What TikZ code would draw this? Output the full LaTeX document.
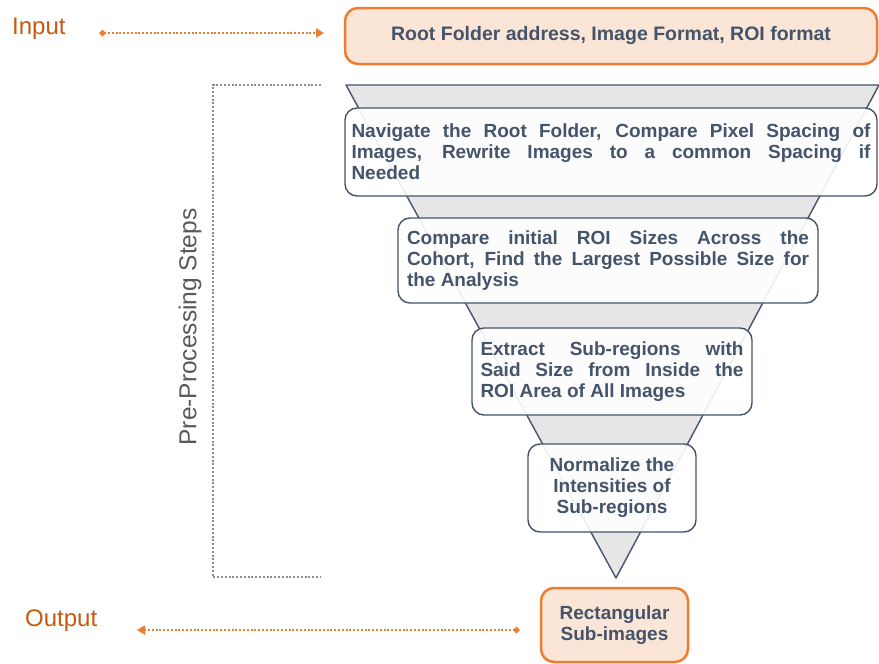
\documentclass[tikz,border=0pt]{standalone}
\usepackage{fontspec}
\setmainfont{Liberation Sans}
\usetikzlibrary{arrows.meta}
\definecolor{slate}{HTML}{44546A}
\definecolor{orng}{HTML}{ED7D31}
\definecolor{peach}{HTML}{FBE5D6}
\definecolor{darkorng}{HTML}{C55A11}
\definecolor{lgray}{HTML}{E7E6E6}
\definecolor{bgray}{HTML}{8C8C8C}
\definecolor{tgray}{HTML}{595959}
\begin{document}
\begin{tikzpicture}[x=1pt,y=-1pt,
  boxfont/.style={font=\bfseries\fontsize{19}{21}\selectfont},
  iobox/.style={draw=orng, fill=peach, line width=2.5pt, rounded corners=13pt,
    text=slate, boxfont, align=center, inner sep=0pt},
  stepbox/.style={draw=slate, fill=white, fill opacity=0.9, text opacity=1,
    line width=1.4pt, rounded corners=12pt, text=slate, boxfont, align=center, inner sep=0pt},
  sidelabel/.style={text=darkorng, font=\fontsize{24}{28}\selectfont, inner sep=0pt},
  ioarrow/.style={draw=orng, line width=2.5pt, dash pattern=on 2pt off 1.8pt,
    {Diamond[length=7pt,width=7pt]}-{Triangle[length=8pt,width=9pt]}},
  bracket/.style={draw=bgray, line width=2.5pt, dash pattern=on 2pt off 1.8pt}
]
\useasboundingbox (0,0) rectangle (879,664);

% funnel
\filldraw[fill=lgray, draw=slate, line width=1.4pt, line join=round]
  (346,85) -- (879,85) -- (616,578) -- cycle;

% input
\node[sidelabel, anchor=west] (inlabel) at (12,29) {Input};
\node[iobox, minimum width=532pt, minimum height=56pt, font=\bfseries\fontsize{19.5}{21}\selectfont] (inbox) at (611,36)
  {Root Folder address, Image Format, ROI format};
\coordinate (inA) at (99,33);
\coordinate (inB) at (324,33);
\draw[ioarrow] (inA) -- (inB);

% steps
\node[stepbox, minimum width=532pt, minimum height=88pt] (s1) at (611,152)
  {\makebox[519pt][s]{Navigate the Root Folder, Compare Pixel Spacing of}\\
   \makebox[519pt][s]{Images, Rewrite Images to a common Spacing if}\\
   \makebox[519pt][l]{Needed}};
\node[stepbox, minimum width=420pt, minimum height=85pt] (s2) at (608,260.5)
  {\makebox[402pt][s]{Compare initial ROI Sizes Across the}\\
   \makebox[402pt][s]{Cohort, Find the Largest Possible Size for}\\
   \makebox[402pt][l]{the Analysis}};
\node[stepbox, minimum width=280pt, minimum height=87pt] (s3) at (612,371.5)
  {\makebox[263pt][s]{Extract Sub-regions with}\\
   \makebox[263pt][s]{Said Size from Inside the}\\
   \makebox[263pt][l]{ROI Area of All Images}};
\node[stepbox, minimum width=168pt, minimum height=88pt] (s4) at (612,488)
  {Normalize the\\Intensities of\\Sub-regions};

% output
\node[iobox, minimum width=147pt, minimum height=74pt] (outbox) at (614.5,625)
  {Rectangular\\Sub-images};
\node[sidelabel, anchor=west] (outlabel) at (25,621) {Output};
\coordinate (outA) at (520,630);
\coordinate (outB) at (137,630);
\draw[ioarrow] (outA) -- (outB);

% bracket
\coordinate (bA) at (321,85);
\coordinate (bB) at (213,85);
\coordinate (bC) at (213,577);
\coordinate (bD) at (321,577);
\draw[bracket] (bA) -- (bB) -- (bC) -- (bD);
\node[text=tgray, font=\fontsize{24.5}{28}\selectfont, rotate=90, inner sep=0pt] (pre) at (190,327)
  {Pre-Processing Steps};
\end{tikzpicture}
\end{document}
